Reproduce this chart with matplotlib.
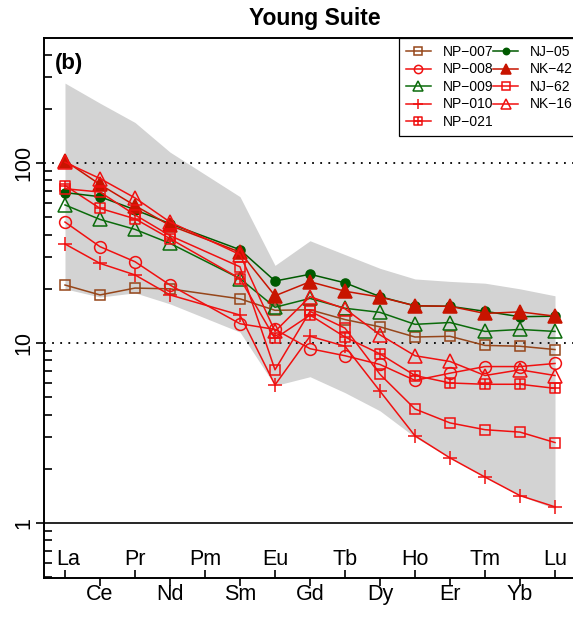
import matplotlib
matplotlib.use('Agg')
import matplotlib.pyplot as plt
import numpy as np
from matplotlib.path import Path
from matplotlib.ticker import LogLocator, NullFormatter

plt.rcParams['font.family'] = ['Liberation Sans', 'DejaVu Sans']

# chondrite-normalised REE, Pm not analysed
ree = ['La', 'Ce', 'Pr', 'Nd', 'Pm', 'Sm', 'Eu', 'Gd', 'Tb', 'Dy', 'Ho', 'Er', 'Tm', 'Yb', 'Lu']
measured = ['La', 'Ce', 'Pr', 'Nd', 'Sm', 'Eu', 'Gd', 'Tb', 'Dy', 'Ho', 'Er', 'Tm', 'Yb', 'Lu']

np007 = [21, 18.5, 20.2, 20, 17.6, 15.2, 15.3, 13.5, 12.3, 10.8, 10.9, 9.7, 9.6, 9.2]
np008 = [47, 34.3, 28.3, 21, 12.8, 11.9, 9.3, 8.5, 7.6, 6.2, 6.8, 7.4, 7.4, 7.7]
np009 = [58.5, 48.6, 42.8, 35.8, 22.8, 15.8, 17.7, 15.6, 14.8, 12.7, 13.0, 11.6, 11.9, 11.6]
np010 = [35.5, 27.7, 23.9, 18.5, 14.3, 5.85, 10.9, 9.6, 5.4, 3.05, 2.3, 1.8, 1.42, 1.23]
np021 = [75, 56, 49, 38, 22.8, 10.6, 14.3, 10.8, 8.7, 6.6, 6.0, 5.9, 5.9, 5.6]
nj05 = [68.5, 65, 55, 46, 33, 22.1, 24.1, 21.6, 18.1, 16.1, 16.0, 15.0, 14.0, 14.1]
nk42 = [103, 76, 58, 45, 32, 18.3, 21.9, 19.4, 18.0, 16.1, 16.0, 14.6, 14.9, 14.1]
nj62 = [72, 69, 51.5, 39.5, 26.5, 7.1, 15.0, 12.1, 6.7, 4.3, 3.6, 3.3, 3.2, 2.8]
nk16 = [101, 82, 64, 47, 31, 11.6, 18.1, 15.5, 11.1, 8.5, 7.9, 6.6, 7.1, 6.6]

env_hi = [278, 215, 168, 115, 65, 27, 37, 31, 26, 22.7, 22, 21.5, 20, 18.3]
env_lo = [20, 18, 19, 16.5, 11.5, 5.8, 6.5, 5.3, 4.2, 3.0, 2.3, 1.8, 1.42, 1.2]

xpos = np.array([ree.index(e) + 1 for e in measured])

# square with a cross inside (R pch 12)
sqplus = Path([(-1, -1), (1, -1), (1, 1), (-1, 1), (-1, -1), (0, -1), (0, 1), (-1, 0), (1, 0)],
              [Path.MOVETO, Path.LINETO, Path.LINETO, Path.LINETO, Path.CLOSEPOLY,
               Path.MOVETO, Path.LINETO, Path.MOVETO, Path.LINETO])

red = '#F01010'
series = [
    ('NP\u2212007', np007, '#96461A', 's', 'none', 7.5),
    ('NP\u2212008', np008, red, 'o', 'none', 8.5),
    ('NP\u2212009', np009, '#0B6B0B', '^', 'none', 9.5),
    ('NP\u2212010', np010, red, '+', 'none', 10),
    ('NP\u2212021', np021, red, sqplus, 'none', 7.5),
    ('NJ\u221205', nj05, '#005A00', 'o', 'fill', 6.5),
    ('NK\u221242', nk42, '#C81400', '^', 'fill', 9.5),
    ('NJ\u221262', nj62, red, 's', 'none', 7.5),
    ('NK\u221216', nk16, red, '^', 'none', 9.5),
]

fig = plt.figure(figsize=(5.73, 6.19), dpi=100)
ax = fig.add_axes([44 / 573, 1 - 578 / 619, 532 / 573, 540 / 619])

ax.fill_between(xpos, env_lo, env_hi, color='lightgray', lw=0, zorder=1)
for h in [10, 100]:
    ax.axhline(h, color='black', lw=1.3, ls=(0, (1, 3.5)), zorder=2)
ax.axhline(1, color='black', lw=1.2, zorder=2)

for name, vals, col, mk, fill, ms in series:
    fc = col if fill == 'fill' else 'none'
    ax.plot(xpos, vals, color=col, lw=1.1, marker=mk, ms=ms, mfc=fc, mec=col,
            mew=1.1, label=name, zorder=3)

ax.set_yscale('log')
ax.set_ylim(0.495, 495)
ax.set_xlim(0.4, 15.6)

ax.set_yticks([1, 10, 100])
ax.set_yticklabels(['1', '10', '100'])
ax.yaxis.set_minor_locator(LogLocator(base=10, subs=np.arange(2, 10)))
ax.yaxis.set_minor_formatter(NullFormatter())
ax.tick_params(axis='y', which='major', direction='out', length=5.5, width=1.2,
               pad=1.5, labelsize=15.5, labelrotation=90)
ax.tick_params(axis='y', which='minor', direction='in', length=6, width=1.2)
for lab in ax.get_yticklabels():
    lab.set_va('center')

# alternating REE labels: odd ones outside below, the others inside above the axis
low = [i + 1 for i in range(len(ree)) if i % 2 == 1]
high = [i + 1 for i in range(len(ree)) if i % 2 == 0]
ax.set_xticks(low)
ax.set_xticklabels([ree[i - 1] for i in low])
ax.set_xticks(high, minor=True)
ax.tick_params(axis='x', which='major', direction='out', length=6, width=1.2,
               pad=-2, labelsize=15.5)
ax.tick_params(axis='x', which='minor', direction='in', length=6, width=1.2)
for i in high:
    dx = 2.5 if i == 1 else 0
    ax.annotate(ree[i - 1], xy=(i, 0), xycoords=('data', 'axes fraction'),
                xytext=(dx, 9.5), textcoords='offset points', ha='center',
                va='baseline', fontsize=15.5)

for sp in ax.spines.values():
    sp.set_linewidth(1.4)

ax.text(0.021, 0.952, '(b)', transform=ax.transAxes, fontsize=16,
        fontweight='bold', ha='left', va='center')
fig.text(315 / 573, 1 - 18 / 619, 'Young Suite', fontsize=16.5,
         fontweight='bold', ha='center', va='center')

leg = ax.legend(ncol=2, loc='upper left', bbox_to_anchor=((399 - 44) / 532, 1),
                borderaxespad=0, fontsize=10, handlelength=1.8, handletextpad=0.85,
                columnspacing=0.0, labelspacing=0.25, borderpad=0.5, frameon=True,
                fancybox=False, edgecolor='black', framealpha=1, markerscale=0.7)
leg.get_frame().set_linewidth(0.9)

fig.savefig('out.png', dpi=100)
plt.close(fig)
